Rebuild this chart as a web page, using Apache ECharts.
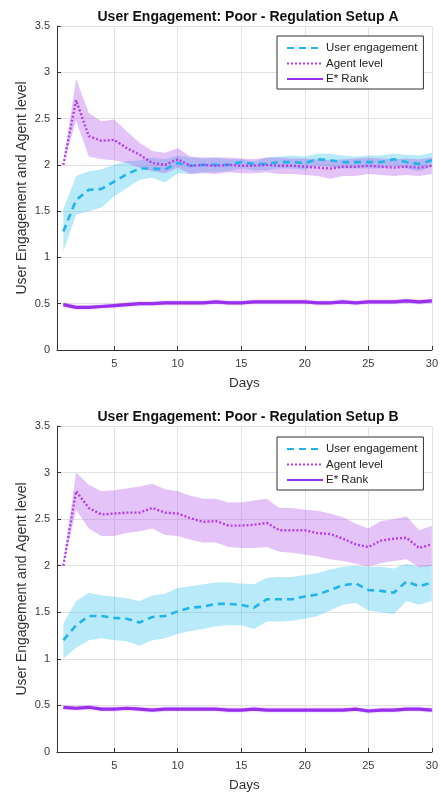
<!DOCTYPE html>
<html>
<head>
<meta charset="utf-8">
<script src="https://cdn.jsdelivr.net/npm/echarts@6/dist/echarts.min.js"></script>
<style>
  html, body { margin: 0; padding: 0; background: #fff; }
  #chart { width: 441px; height: 795px; }
</style>
</head>
<body>
<div id="chart"></div>
<script>
// Days on the x axis
const days = [1,2,3,4,5,6,7,8,9,10,11,12,13,14,15,16,17,18,19,20,21,22,23,24,25,26,27,28,29,30];
const xTicks = [5,10,15,20,25,30];

// Regulation Setup A
const ueA    = [1.28,1.62,1.73,1.74,1.82,1.90,1.96,1.96,1.95,2.02,1.99,2.00,2.00,2.00,2.03,2.01,2.01,2.03,2.03,2.02,2.06,2.05,2.03,2.03,2.03,2.03,2.06,2.03,2.01,2.05];
const ueA_hi = [1.52,1.88,1.93,1.95,2.00,2.04,2.05,2.08,2.06,2.10,2.08,2.07,2.08,2.06,2.06,2.04,2.08,2.09,2.10,2.09,2.12,2.12,2.10,2.09,2.10,2.10,2.12,2.11,2.10,2.13];
const ueA_lo = [1.06,1.46,1.50,1.54,1.66,1.75,1.84,1.86,1.81,1.91,1.90,1.92,1.92,1.93,1.96,1.94,1.94,1.96,1.96,1.95,1.99,1.98,1.96,1.96,1.96,1.96,1.99,1.96,1.93,1.98];
const agA    = [2.00,2.70,2.31,2.26,2.27,2.18,2.11,2.02,2.00,2.06,1.99,2.00,1.99,2.00,1.99,1.99,2.00,1.99,1.99,1.98,1.97,1.96,1.98,1.98,1.99,1.98,1.97,1.98,1.97,1.99];
const agA_hi = [2.00,2.93,2.56,2.47,2.49,2.36,2.24,2.15,2.13,2.18,2.09,2.08,2.08,2.08,2.07,2.06,2.08,2.08,2.07,2.07,2.06,2.05,2.06,2.07,2.08,2.07,2.06,2.07,2.06,2.08];
const agA_lo = [2.00,2.48,2.09,2.06,2.05,2.02,1.97,1.93,1.91,1.97,1.90,1.91,1.90,1.92,1.91,1.91,1.92,1.90,1.90,1.89,1.88,1.85,1.88,1.88,1.90,1.89,1.88,1.89,1.88,1.90];
const erA    = [0.49,0.46,0.46,0.47,0.48,0.49,0.50,0.50,0.51,0.51,0.51,0.51,0.52,0.51,0.51,0.52,0.52,0.52,0.52,0.52,0.51,0.51,0.52,0.51,0.52,0.52,0.52,0.53,0.52,0.53];

// Regulation Setup B
const ueB    = [1.20,1.36,1.46,1.46,1.44,1.43,1.39,1.45,1.46,1.51,1.55,1.56,1.59,1.59,1.58,1.55,1.64,1.64,1.64,1.67,1.69,1.74,1.79,1.81,1.74,1.73,1.71,1.83,1.78,1.82];
const ueB_hi = [1.38,1.62,1.71,1.68,1.67,1.65,1.62,1.68,1.70,1.76,1.78,1.80,1.82,1.82,1.81,1.80,1.87,1.88,1.88,1.90,1.92,1.96,1.99,2.00,1.99,1.99,1.97,2.02,1.99,2.01];
const ueB_lo = [1.00,1.12,1.20,1.22,1.20,1.19,1.14,1.20,1.22,1.27,1.30,1.32,1.35,1.36,1.36,1.32,1.40,1.40,1.41,1.43,1.46,1.52,1.58,1.60,1.52,1.50,1.48,1.62,1.58,1.62];
const agB    = [2.00,2.80,2.62,2.55,2.56,2.57,2.57,2.62,2.57,2.56,2.51,2.47,2.48,2.43,2.43,2.44,2.46,2.38,2.38,2.38,2.35,2.34,2.29,2.23,2.20,2.27,2.29,2.30,2.19,2.23];
const agB_hi = [2.00,3.00,2.87,2.80,2.81,2.83,2.85,2.88,2.82,2.80,2.75,2.72,2.72,2.68,2.68,2.70,2.72,2.62,2.62,2.60,2.59,2.56,2.52,2.45,2.40,2.48,2.50,2.53,2.38,2.43];
const agB_lo = [2.00,2.60,2.40,2.32,2.32,2.35,2.37,2.40,2.33,2.32,2.28,2.25,2.25,2.20,2.19,2.19,2.20,2.15,2.14,2.12,2.10,2.07,2.05,2.02,1.99,2.03,2.05,2.07,1.98,2.00];
const erB    = [0.48,0.47,0.48,0.46,0.46,0.47,0.46,0.45,0.46,0.46,0.46,0.46,0.46,0.45,0.45,0.46,0.45,0.45,0.45,0.45,0.45,0.45,0.45,0.46,0.44,0.45,0.45,0.46,0.46,0.45];

const titles = ['User Engagement: Poor - Regulation Setup A', 'User Engagement: Poor - Regulation Setup B'];
const names = ['User engagement', 'Agent level', 'E* Rank'];

const C_UE = '#21b3ec';
const C_UE_BAND = 'rgba(40,190,238,0.33)';
const C_AG = '#b43cf0';
const C_AG_BAND = 'rgba(180,90,235,0.36)';
const C_ER = '#9b2ff0';
const FONT = 'Liberation Sans, Arial, Helvetica, sans-serif';

const pairs = (ys) => days.map((d, i) => [d, ys[i]]);

// Shaded spread: one polygon from the upper bound forward and the lower bound back.
function band(idx, lo, hi, color) {
  return {
    type: 'custom', xAxisIndex: idx, yAxisIndex: idx, silent: true, z: 1,
    data: days.map((d, i) => [d, lo[i], hi[i]]),
    encode: { x: 0, y: [1, 2] },
    renderItem: (params, api) => {
      if (params.dataIndex !== 0) return null;
      const top = days.map((d, i) => api.coord([d, hi[i]]));
      const bottom = days.map((d, i) => api.coord([d, lo[i]])).reverse();
      return {
        type: 'polygon',
        shape: { points: top.concat(bottom) },
        style: { fill: color, stroke: null }
      };
    }
  };
}

function panelSeries(idx, ue, ueLo, ueHi, ag, agLo, agHi, er) {
  return [
    band(idx, ueLo, ueHi, C_UE_BAND),
    band(idx, agLo, agHi, C_AG_BAND),
    {
      type: 'line', name: names[0], xAxisIndex: idx, yAxisIndex: idx,
      data: pairs(ue), symbol: 'none', z: 3,
      lineStyle: { color: C_UE, width: 2.6, type: [7, 5] }, itemStyle: { color: C_UE }
    },
    {
      type: 'line', name: names[1], xAxisIndex: idx, yAxisIndex: idx,
      data: pairs(ag), symbol: 'none', z: 3,
      lineStyle: { color: C_AG, width: 2.4, type: [2, 2] }, itemStyle: { color: C_AG }
    },
    {
      type: 'line', name: names[2], xAxisIndex: idx, yAxisIndex: idx,
      data: pairs(er), symbol: 'none', z: 4,
      lineStyle: { color: C_ER, width: 3.2, shadowColor: 'rgba(155,47,240,0.45)', shadowBlur: 2 },
      itemStyle: { color: C_ER }
    }
  ];
}

const axisText = { color: '#3a3a3a', fontSize: 11, fontFamily: FONT };

const option = {
  animation: false,
  backgroundColor: '#fff',
  title: titles.map((t, i) => ({
    text: t,
    left: 243, top: i === 0 ? 5 : 405, textAlign: 'center',
    textStyle: { fontSize: 14, fontWeight: 'bold', color: '#111', fontFamily: FONT }
  })),
  legend: [0, 1].map(i => ({
    data: names,
    orient: 'vertical',
    left: 277, top: i === 0 ? 36 : 437,
    padding: [6, 6, 4, 9],
    itemWidth: 36, itemHeight: 12, itemGap: 3.5,
    borderColor: '#333', borderWidth: 1, backgroundColor: '#fff',
    itemStyle: { opacity: 0 },
    textStyle: { fontSize: 11.5, color: '#222', fontFamily: FONT, padding: [0, 0, 0, -2] },
    selectedMode: false
  })),
  grid: [
    { left: 57, top: 26, width: 378, height: 324 },
    { left: 57, top: 426, width: 378, height: 326 }
  ],
  xAxis: [0, 1].map(i => ({
    type: 'value', gridIndex: i, min: 0.5, max: 30,
    name: 'Days', nameLocation: 'middle', nameGap: 26,
    nameTextStyle: { fontSize: 13.5, color: '#333', fontFamily: FONT },
    axisLine: { show: true, onZero: false, lineStyle: { color: '#333', width: 1 } },
    axisTick: { show: true, inside: true, length: 4, customValues: xTicks, lineStyle: { color: '#333' } },
    axisLabel: Object.assign({ customValues: xTicks, margin: 8 }, axisText),
    splitLine: { show: true, lineStyle: { color: '#e3e3e3', width: 1 } }
  })),
  yAxis: [0, 1].map(i => ({
    type: 'value', gridIndex: i, min: 0, max: 3.5, interval: 0.5,
    name: 'User Engagement and Agent level', nameLocation: 'middle', nameGap: 28,
    nameRotate: 90, nameMoveOverlap: false,
    nameTextStyle: { fontSize: 14, color: '#333', fontFamily: FONT },
    axisLine: { show: true, lineStyle: { color: '#333', width: 1 } },
    axisTick: { show: true, inside: true, length: 4, lineStyle: { color: '#333' } },
    axisLabel: Object.assign({ margin: 7 }, axisText),
    splitLine: { show: true, lineStyle: { color: '#e3e3e3', width: 1 } }
  })),
  series: [
    ...panelSeries(0, ueA, ueA_lo, ueA_hi, agA, agA_lo, agA_hi, erA),
    ...panelSeries(1, ueB, ueB_lo, ueB_hi, agB, agB_lo, agB_hi, erB)
  ]
};

const chart = echarts.init(document.getElementById('chart'), null, { renderer: 'canvas' });
chart.setOption(option);
</script>
</body>
</html>
